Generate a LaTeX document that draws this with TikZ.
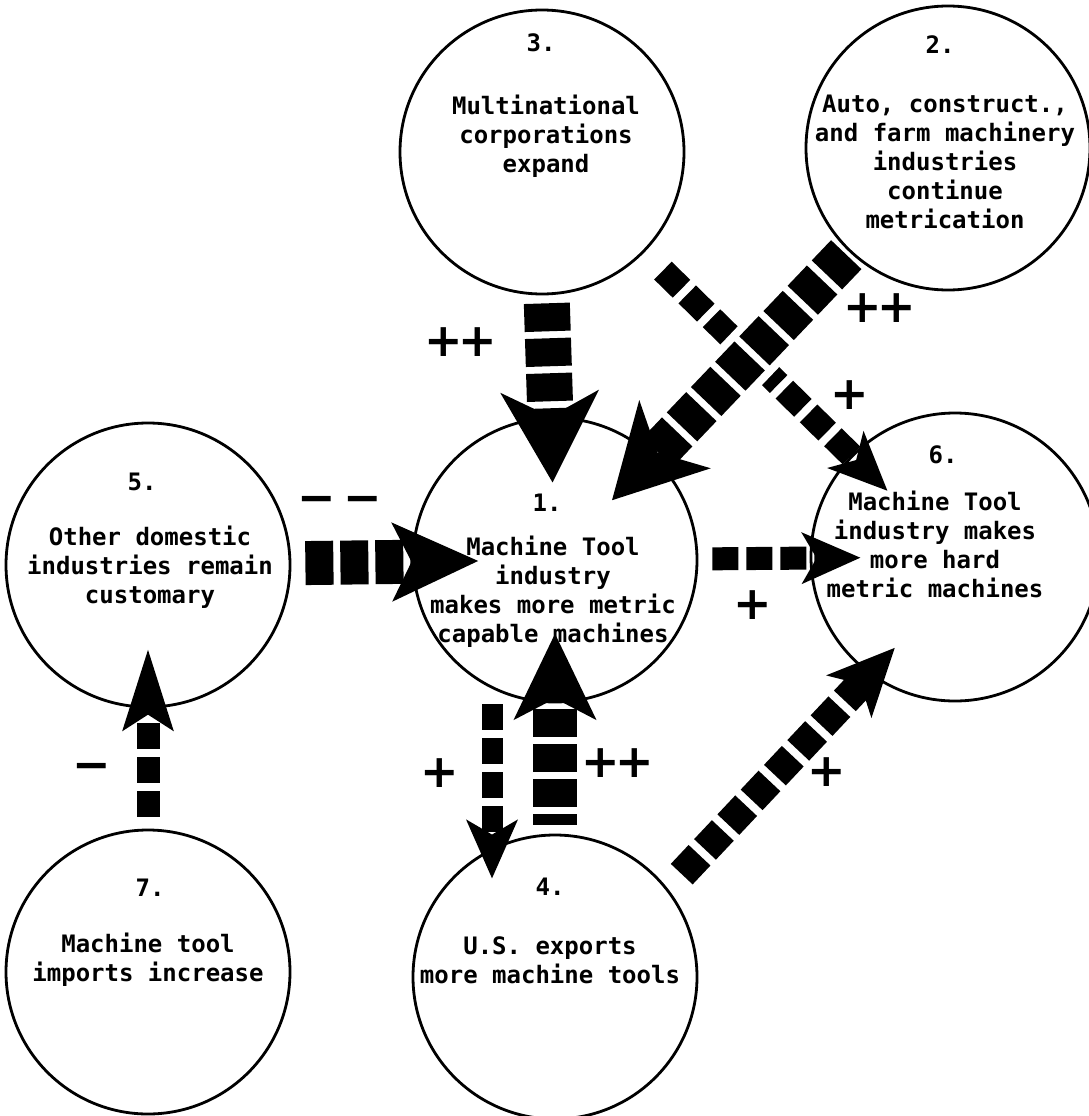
\documentclass[tikz,border=0pt]{standalone}
\usepackage{fontspec}
\newfontfamily\typefont{DejaVu Sans Mono}
\newfontfamily\signfont{DejaVu Sans}
\usetikzlibrary{arrows.meta}

\tikzset{
  circ/.style={circle, draw, line width=2.8pt, minimum size=284pt, inner sep=0pt},
  num/.style={font=\typefont\bfseries\fontsize{24}{29}\selectfont, inner sep=0pt},
  body/.style={font=\typefont\bfseries\fontsize{24}{29}\selectfont, align=center, inner sep=0pt},
  sign/.style={font=\signfont\bfseries\fontsize{46}{46}\selectfont, inner sep=0pt},
  bigflow/.style={line width=44pt, dash pattern=on 28pt off 7pt,
    -{Stealth[length=90pt, width=96pt, inset=24pt]}},
  smallflow/.style={line width=23pt, dash pattern=on 26pt off 8pt,
    -{Stealth[length=58pt, width=50pt, inset=14pt]}},
  crossgap/.style={draw=white, line width=58pt}
}
\newcommand\pp{+\kern-5pt+}

\begin{document}
\begin{tikzpicture}[x=1pt, y=-1pt]
  \useasboundingbox (0,0) rectangle (1088,1116);

  % Circles
  \node[circ] (c1) at (555,560) {};
  \node[circ] (c2) at (948,148) {};
  \node[circ] (c3) at (542,152) {};
  \node[circ] (c4) at (555,977) {};
  \node[circ] (c5) at (148,565) {};
  \node[circ, minimum size=288pt] (c6) at (955,557) {};
  \node[circ] (c7) at (148,972) {};

  % Numbers and texts
  \node[num] (n1) at (547,503) {1.};
  \node[body] (t1) at (553,592) {Machine Tool\\industry\\makes more metric\\capable machines};
  \node[num] (n2) at (940,45) {2.};
  \node[body] (t2) at (945,162) {Auto, construct.,\\and farm machinery\\industries\\continue\\metrication};
  \node[num] (n3) at (541,43) {3.};
  \node[body] (t3) at (546,136) {Multinational\\corporations\\expand};
  \node[num] (n4) at (550,887) {4.};
  \node[body] (t4) at (550,960) {U.S. exports\\more machine tools};
  \node[num] (n5) at (142,482) {5.};
  \node[body] (t5) at (150,567) {Other domestic\\industries remain\\customary};
  \node[num] (n6) at (943,455) {6.};
  \node[body] (t6) at (935,544) {Machine Tool\\industry makes\\more hard\\metric machines};
  \node[num] (n7) at (150,888) {7.};
  \node[body] (t7) at (148,960) {Machine tool\\imports increase};

  % Arrows
  \draw[smallflow, line width=25pt, shorten <=26pt, shorten >=-51pt] (c3) -- (c6);
  \draw[crossgap, shorten <=60pt, shorten >=50pt] (c2) -- (c1);
  \draw[bigflow, line width=42pt, shorten <=4pt, shorten >=-61pt] (c2) -- (c1);
  \draw[bigflow, line width=46pt, shorten <=8pt, shorten >=-66pt] (c3) -- (c1);
  \draw[bigflow, shorten <=14pt, shorten >=-67pt,
    -{Stealth[length=85pt, width=76pt, inset=18pt]}] (c5) -- (c1);
  \draw[smallflow, shorten <=14pt, shorten >=-51pt] (c1) -- (c6);
  \draw[smallflow, line width=21pt, shorten <=1pt, shorten >=-45pt]
    ([xshift=-63pt]c1.south) -- ([xshift=-63pt]c4.north);
  \draw[bigflow, dash phase=17pt, shorten <=9pt, shorten >=-70pt,
    -{Stealth[length=85pt, width=80pt, inset=20pt]}] (c4) -- (c1);
  \draw[smallflow, line width=30pt, shorten <=20pt, shorten >=-37pt,
    -{Stealth[length=66pt, width=60pt, inset=16pt]}] (c4.38) -- (c6.234);
  \draw[smallflow, shorten <=12pt, shorten >=-60pt,
    -{Stealth[length=80pt, width=48pt, inset=14pt]}] (c7) -- (c5);

  % Signs
  \node[sign] (s31) at (461,342) {\pp};
  \node[sign] (s21) at (880,308) {\pp};
  \node[sign] (s36) at (850,395) {+};
  \node[sign] (s51) at (340,505) {−\kern8pt−};
  \node[sign] (s16) at (753,605) {+};
  \node[sign] (s14) at (440,773) {+};
  \node[sign] (s41) at (618,763) {\pp};
  \node[sign] (s46) at (827,772) {+};
  \node[sign] (s75) at (92,772) {−};
\end{tikzpicture}
\end{document}
